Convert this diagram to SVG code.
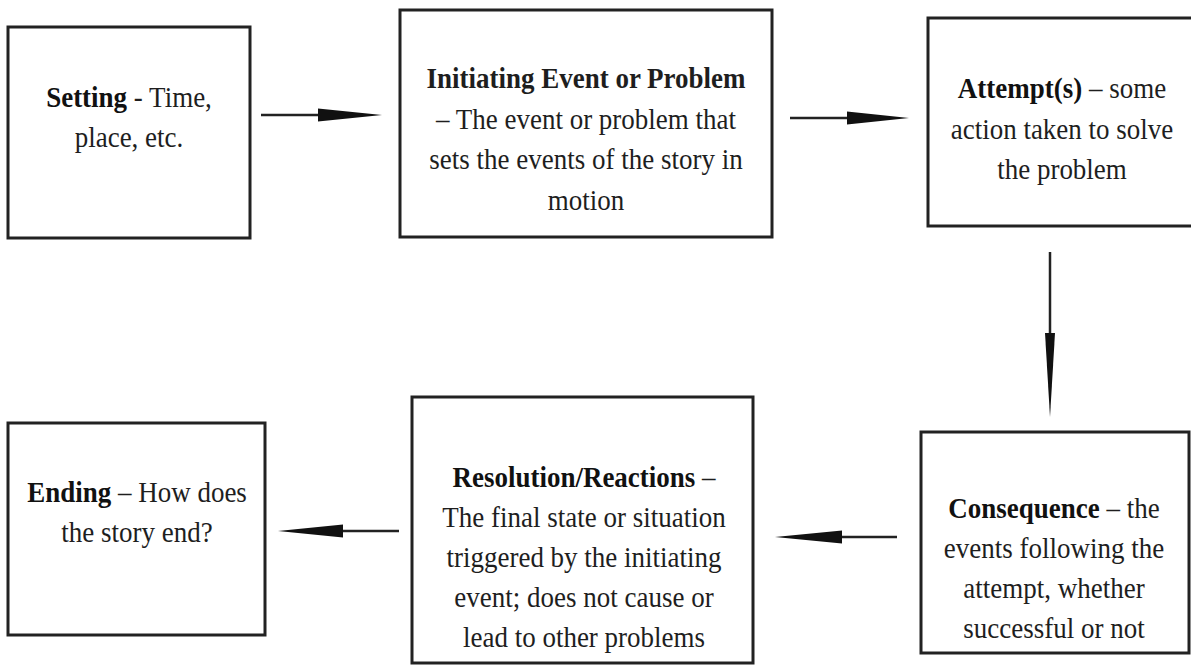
<svg xmlns="http://www.w3.org/2000/svg" width="1191" height="666" viewBox="0 0 1191 666">
<style>
.box{fill:#fff;stroke:#222;stroke-width:3}
.t text{font-family:"Liberation Serif","Times New Roman",serif;font-size:27px;fill:#1e1e1e;text-anchor:middle}
.b{font-weight:bold;fill:#111}
.ln{stroke:#222;stroke-width:2.5;fill:none}
.hd{fill:#111;stroke:none}
</style>
<rect width="1191" height="666" fill="#fff"/>
<g id="setting" class="t">
<rect class="box" x="8" y="27" width="242" height="211"/>
<text transform="matrix(1,0,0,1.12,129,107)"><tspan class="b">Setting</tspan> - Time,</text>
<text transform="matrix(1,0,0,1.12,129,147)">place, etc.</text>
</g>
<g id="initiating" class="t">
<rect class="box" x="400" y="10" width="372" height="227"/>
<text transform="matrix(1,0,0,1.12,586,88)" class="b">Initiating Event or Problem</text>
<text transform="matrix(1,0,0,1.12,586,129)">– The event or problem that</text>
<text transform="matrix(1,0,0,1.12,586,169)">sets the events of the story in</text>
<text transform="matrix(1,0,0,1.12,586,210)">motion</text>
</g>
<g id="attempt" class="t">
<rect class="box" x="928" y="18" width="268" height="208"/>
<text transform="matrix(1,0,0,1.12,1062,98)"><tspan class="b">Attempt(s)</tspan> – some</text>
<text transform="matrix(1,0,0,1.12,1062,139)">action taken to solve</text>
<text transform="matrix(1,0,0,1.12,1062,179)">the problem</text>
</g>
<g id="consequence" class="t">
<rect class="box" x="921" y="432" width="268" height="221"/>
<text transform="matrix(1,0,0,1.12,1054,518)"><tspan class="b">Consequence</tspan> – the</text>
<text transform="matrix(1,0,0,1.12,1054,558)">events following the</text>
<text transform="matrix(1,0,0,1.12,1054,598)">attempt, whether</text>
<text transform="matrix(1,0,0,1.12,1054,638)">successful or not</text>
</g>
<g id="resolution" class="t">
<rect class="box" x="412" y="397" width="341" height="266"/>
<text transform="matrix(1,0,0,1.12,584,487)"><tspan class="b">Resolution/Reactions</tspan> –</text>
<text transform="matrix(1,0,0,1.12,584,527)">The final state or situation</text>
<text transform="matrix(1,0,0,1.12,584,567)">triggered by the initiating</text>
<text transform="matrix(1,0,0,1.12,584,607)">event; does not cause or</text>
<text transform="matrix(1,0,0,1.12,584,647)">lead to other problems</text>
</g>
<g id="ending" class="t">
<rect class="box" x="8" y="423" width="257" height="212"/>
<text transform="matrix(1,0,0,1.12,137,502)"><tspan class="b">Ending</tspan> – How does</text>
<text transform="matrix(1,0,0,1.12,137,542)">the story end?</text>
</g>
<g id="connectors">
<line class="ln" x1="261" y1="115" x2="320" y2="115"/>
<path class="hd" d="M318,108.5 L382,115 L318,121.5 Z"/>
<line class="ln" x1="790" y1="118" x2="849" y2="118"/>
<path class="hd" d="M847,111.5 L909,118 L847,124.5 Z"/>
<line class="ln" x1="1050" y1="252" x2="1050" y2="335"/>
<path class="hd" d="M1045,333 L1050,417 L1055,333 Z"/>
<line class="ln" x1="897" y1="537" x2="840" y2="537"/>
<path class="hd" d="M842,530.5 L775,537 L842,543.5 Z"/>
<line class="ln" x1="399" y1="531" x2="341" y2="531"/>
<path class="hd" d="M343,524.5 L278,531 L343,537.5 Z"/>
</g>
</svg>
